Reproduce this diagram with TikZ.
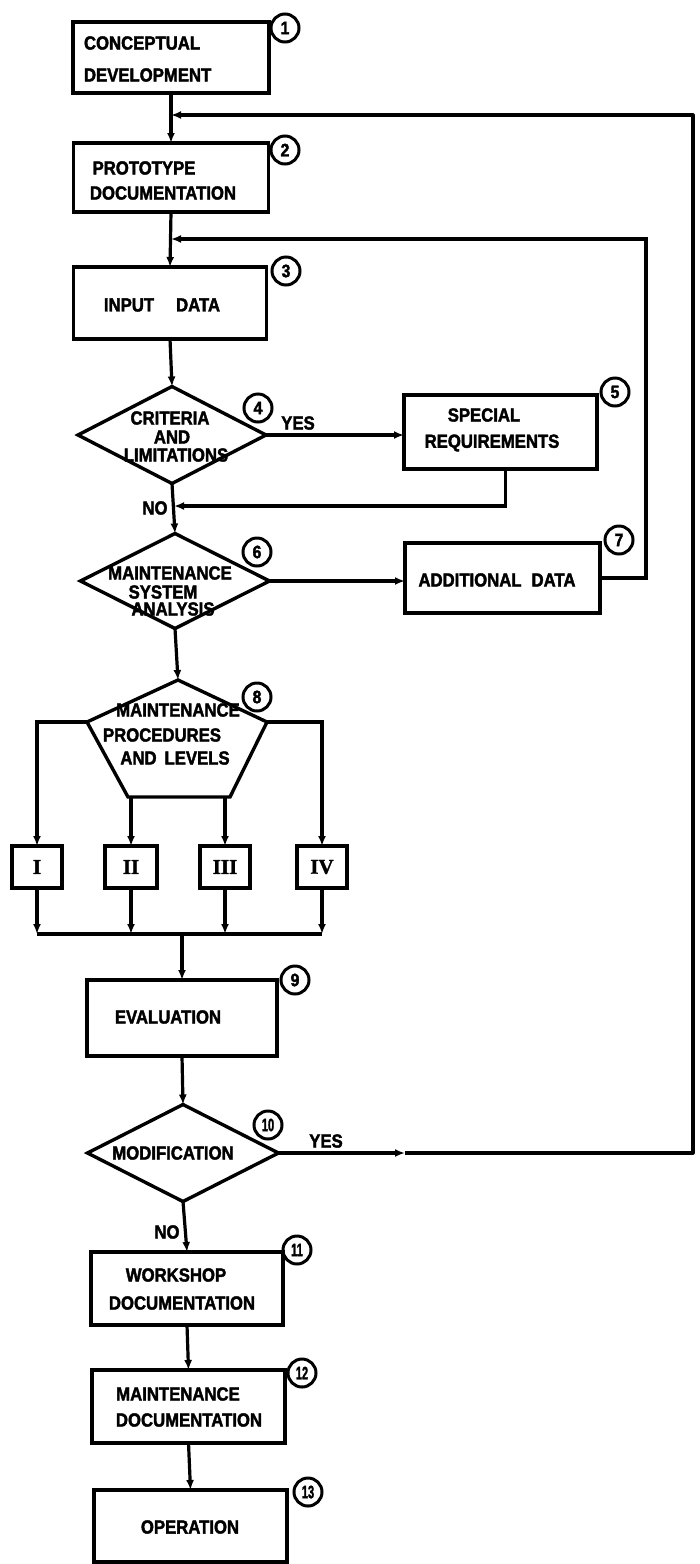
\documentclass[tikz,border=0pt]{standalone}
\usepackage{fontspec}
\usepackage{graphicx}
\setmainfont{Liberation Sans}[FakeStretch=0.88,BoldFeatures={FakeStretch=0.88,FakeBold=2}]
\newfontfamily\romanfont{Liberation Serif}[BoldFeatures={FakeBold=1.5}]
\usetikzlibrary{arrows.meta,shapes.geometric}
\begin{document}
\begin{tikzpicture}[x=1pt,y=-1pt,
  every node/.style={inner sep=0pt,outer sep=0pt},
  box/.style={draw,line width=3.4pt,rectangle},
  dia/.style={draw,line width=3.4pt,diamond},
  txt/.style={font=\bfseries\fontsize{19}{19}\selectfont,align=center},
  lvl/.style={draw,line width=3.4pt,rectangle,minimum height=42pt,font=\romanfont\bfseries\fontsize{21}{21}\selectfont},
  num/.style={draw,circle,line width=3pt,minimum size=28pt,font=\bfseries\fontsize{18}{18}\selectfont},
  conn/.style={line width=3.2pt,-{Latex[length=10pt,width=8pt]}},
  plain/.style={line width=3.2pt}]
\useasboundingbox (0,0) rectangle (700,1564);

% 1
\node[box,minimum width=196pt,minimum height=71pt] (b1) at (171,57.5) {};
\node[txt,align=left,anchor=west,font=\bfseries\fontsize{19}{32}\selectfont] (t1) at (84,59) {CONCEPTUAL\\DEVELOPMENT};
\node[num] (n1) at (285,28) {1};
% 2
\node[box,minimum width=195pt,minimum height=69pt] (b2) at (171,177.5) {};
\node[txt] (t2a) at (144,168) {PROTOTYPE};
\node[txt] (t2b) at (163,193) {DOCUMENTATION};
\node[num] (n2) at (285,150) {2};
% 3
\node[box,minimum width=193pt,minimum height=72pt] (b3) at (170,303) {};
\node[txt] (t3) at (162,305) {INPUT\hspace{22pt}DATA};
\node[num] (n3) at (286,271) {3};
% 4
\node[dia,minimum width=188pt,minimum height=97pt] (d4) at (172,435) {};
\node[txt] (t4a) at (170,418) {CRITERIA};
\node[txt] (t4b) at (172,437) {AND};
\node[txt] (t4c) at (176,455) {LIMITATIONS};
\node[num] (n4) at (258,408) {4};
\node[txt] (yes4) at (298,423) {YES};
\node[txt] (no4) at (155,508) {NO};
% 5
\node[box,minimum width=193pt,minimum height=74pt] (b5) at (500.5,432) {};
\node[txt] (t5a) at (484,415) {SPECIAL};
\node[txt] (t5b) at (492,443) {REQUIREMENTS};
\node[num] (n5) at (615,392) {5};
% 6
\node[dia,minimum width=189pt,minimum height=95pt] (d6) at (175,581) {};
\node[txt] (t6a) at (170,573) {MAINTENANCE};
\node[txt] (t6b) at (163,592) {SYSTEM};
\node[txt] (t6c) at (173,609) {ANALYSIS};
\node[num] (n6) at (257,552) {6};
% 7
\node[box,minimum width=195pt,minimum height=70pt] (b7) at (502.5,578) {};
\node[txt] (t7) at (497,580) {ADDITIONAL\hspace{10pt}DATA};
\node[num] (n7) at (619,540) {7};
% 8
\coordinate (h8top) at (178,680);
\coordinate (h8ur) at (267,722);
\coordinate (h8lr) at (230,797);
\coordinate (h8ll) at (128,797);
\coordinate (h8ul) at (87,722);
\draw[line width=3.4pt,line join=miter] (h8top) -- (h8ur) -- (h8lr) -- (h8ll) -- (h8ul) -- cycle;
\node[txt] (t8a) at (178,710) {MAINTENANCE};
\node[txt] (t8b) at (162,735) {PROCEDURES};
\node[txt] (t8c) at (175,758) {AND\hspace{8pt}LEVELS};
\node[num] (n8) at (257,697) {8};
% levels
\node[lvl,minimum width=50pt] (bI) at (37,867) {I};
\node[lvl,minimum width=52pt] (bII) at (131,867) {II};
\node[lvl,minimum width=50pt] (bIII) at (225,867) {III};
\node[lvl,minimum width=50pt] (bIV) at (322,867) {IV};
\coordinate (cL) at (37,722);
\coordinate (cR) at (322,722);
\coordinate (col) at (182,934);
% 9
\node[box,minimum width=190pt,minimum height=76pt] (b9) at (182,1018) {};
\node[txt] (t9) at (168,1017) {EVALUATION};
\node[num] (n9) at (295,980) {9};
% 10
\node[dia,minimum width=191pt,minimum height=97pt] (d10) at (183,1153) {};
\node[txt] (t10) at (173,1153) {MODIFICATION};
\node[num] (n10) at (268,1125) {\scalebox{0.7}[1]{10}};
\node[txt] (yes10) at (326,1141) {YES};
\node[txt] (no10) at (167,1232) {NO};
% 11
\node[box,minimum width=192pt,minimum height=73pt] (b11) at (187,1288.5) {};
\node[txt] (t11a) at (176,1275) {WORKSHOP};
\node[txt] (t11b) at (182,1303) {DOCUMENTATION};
\node[num] (n11) at (297,1250) {\scalebox{0.7}[1]{11}};
% 12
\node[box,minimum width=193pt,minimum height=73pt] (b12) at (188.5,1406.5) {};
\node[txt] (t12a) at (178,1394) {MAINTENANCE};
\node[txt] (t12b) at (189,1420) {DOCUMENTATION};
\node[num] (n12) at (302,1373) {\scalebox{0.7}[1]{12}};
% 13
\node[box,minimum width=193pt,minimum height=72pt] (b13) at (190.5,1526) {};
\node[txt] (t13) at (190,1527) {OPERATION};
\node[num] (n13) at (308,1492) {\scalebox{0.7}[1]{13}};

% junctions
\coordinate (j1) at (171,115);
\coordinate (j2) at (171,239);
\coordinate (j5) at (174,506);
\coordinate (fb2r) at (646,239);
\coordinate (ym) at (405,1153);
\coordinate (rc) at (693,1153);
\coordinate (rt) at (693,115);

% main flow
\draw[conn] (b1.south) -- (b2.north);
\draw[conn] (b2.south) -- (b3.north);
\draw[conn] (b3.south) -- (d4.north);
\draw[conn] (d4.south) -- (d6.north);
\draw[conn] (d6.south) -- (h8top);
\draw[conn] (d4.east) -- (b5.west |- d4.east);
\draw[conn] ([xshift=5pt]b5.south) |- (j5);
\draw[conn] (d6.east) -- (b7.west |- d6.east);
\draw[conn] (b7.east) -| (fb2r) -- (j2);
\draw[conn] (h8ul) -- (cL) -- (bI.north);
\draw[conn] (h8ur) -- (cR) -- (bIV.north);
\draw[conn] (bII.north |- h8ll) -- (bII.north);
\draw[conn] (bIII.north |- h8lr) -- (bIII.north);
\draw[conn] (bI.south) -- (bI.south |- col);
\draw[conn] (bII.south) -- (bII.south |- col);
\draw[conn] (bIII.south) -- (bIII.south |- col);
\draw[conn] (bIV.south) -- (bIV.south |- col);
\draw[plain] (bI.south |- col) -- (bIV.south |- col);
\draw[conn] (col) -- (b9.north);
\draw[conn] (b9.south) -- (d10.north);
\draw[conn] (d10.south) -- (b11.north);
\draw[conn] (b11.south) -- (b12.north);
\draw[conn] (b12.south) -- (b13.north);
\draw[conn] (d10.east) -- (ym);
\draw[conn,line join=round] (ym) -- (rc) -- (rt) -- (j1);
\end{tikzpicture}
\end{document}
